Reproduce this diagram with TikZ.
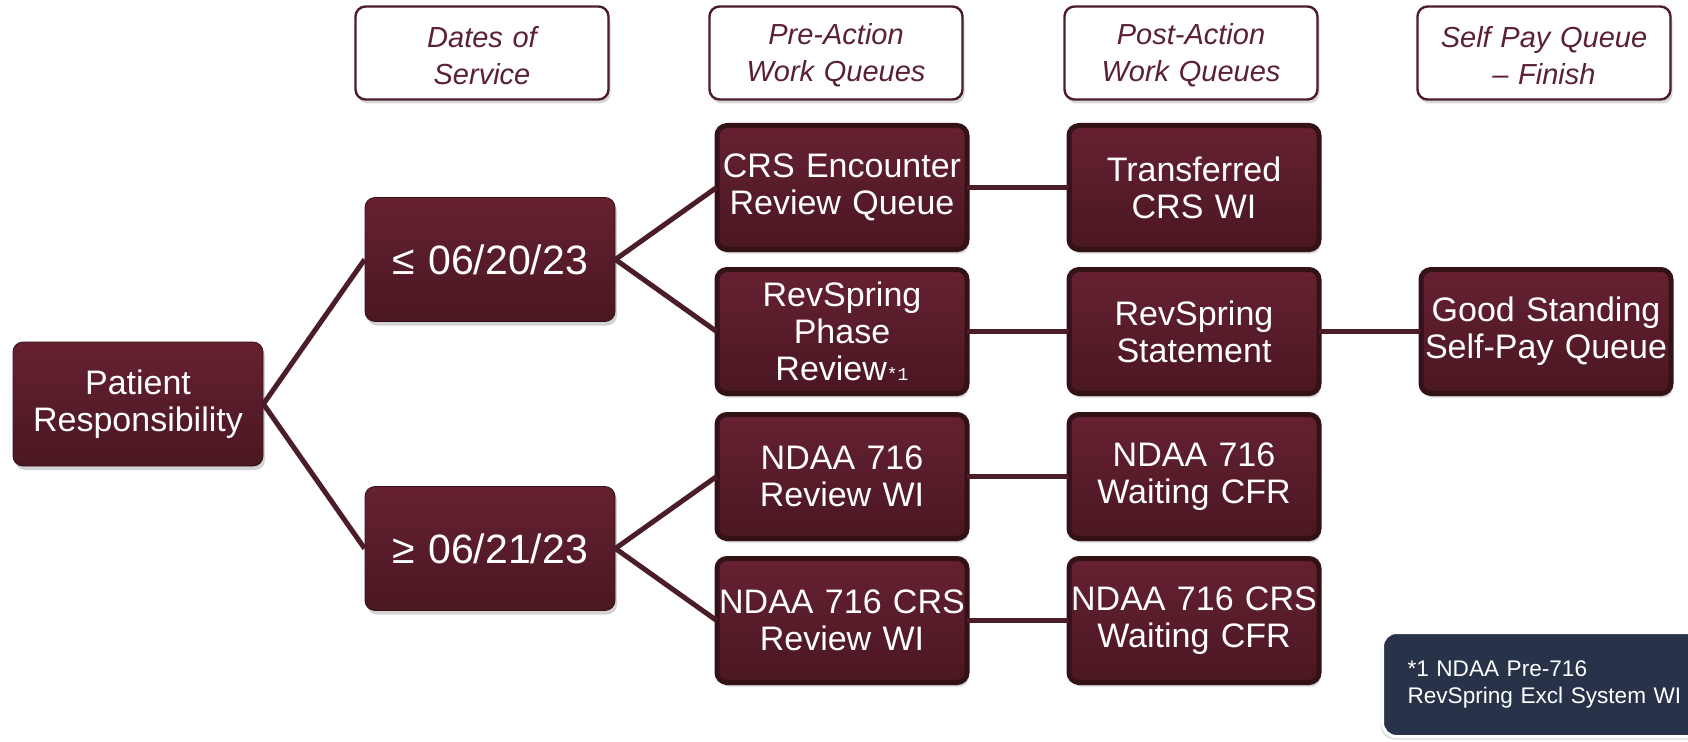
\documentclass[tikz,border=0pt]{standalone}
\usepackage{fontspec}
\setmainfont{Liberation Sans}
\setmonofont{Liberation Mono}
\usetikzlibrary{shadows}
\definecolor{maroontop}{HTML}{662131}
\definecolor{maroonbot}{HTML}{4A1721}
\definecolor{maroonline}{HTML}{4B1D27}
\definecolor{headtext}{HTML}{5A2130}
\definecolor{notefill}{HTML}{283349}
\newcommand{\fnmark}{{\fontsize{9}{9}\selectfont\ttfamily *1}}

\begin{document}
\begin{tikzpicture}[x=0.5pt,y=0.5pt,
    edge from parent/.style={draw=maroonline,line width=2.5pt},
    parent anchor=east, child anchor=west,
    queue/.style = {rectangle, rounded corners=5pt, draw=maroonbot!70!black,
        top color=maroontop, bottom color=maroonbot, text=white,
        minimum width=125pt, minimum height=62pt, text width=124pt,
        inner sep=0pt, align=center, font=\fontsize{17}{18.5}\selectfont,
        drop shadow={opacity=0.35,shadow xshift=1pt,shadow yshift=-2pt}},
    datebox/.style = {font=\fontsize{20.5}{22}\selectfont},
    heading/.style = {rectangle, rounded corners=5pt, draw=maroonline, line width=1.2pt,
        fill=white, minimum width=126.5pt, minimum height=46.5pt, text width=124pt,
        inner sep=0pt, align=center, text=headtext,
        font=\fontsize{14.5}{18.5}\selectfont\itshape,
        drop shadow={opacity=0.3,shadow xshift=1pt,shadow yshift=-2pt}},
    notebox/.style = {rectangle, rounded corners=7pt, fill=notefill, draw=white,
        line width=1.5pt, text=white, text width=150pt, inner xsep=12.5pt,
        minimum height=52pt, align=left, font=\fontsize{11.3}{13.5}\selectfont,
        drop shadow={opacity=0.25,shadow xshift=-1pt,shadow yshift=-1.5pt}},
    grow'=right, level distance=176pt,
    level 1/.style={sibling distance=144.5pt},
    level 2/.style={sibling distance=72pt}]
    \useasboundingbox (0,0) rectangle (1688,741);

    \node [heading] (hdates) at (482,688) {\strut Dates of\\Service};
    \node [heading] (hpre) at (836,688) {\strut Pre-Action\\Work Queues};
    \node [heading] (hpost) at (1191,688) {\strut Post-Action\\Work Queues};
    \node [heading] (hself) at (1544,688) {\strut Self Pay Queue\\– Finish};

    \node [queue] (patient) at (138,337) {Patient\\Responsibility}
    child {node [queue,datebox] (early) {≤ 06/20/23}
        child {node [queue] (crsenc) {CRS Encounter\\Review Queue}
            child {node [queue] (crsxfer) {Transferred\\CRS WI}}
        }
        child {node [queue] (revphase) {RevSpring\\Phase\\Review\fnmark}
            child {node [queue] (revstmt) {RevSpring\\Statement}
                child {node [queue] (goodstanding) {Good Standing\\Self-Pay Queue}}
            }
        }
    }
    child {node [queue,datebox] (late) {≥ 06/21/23}
        child {node [queue] (ndaarev) {NDAA 716\\Review WI}
            child {node [queue] (ndaawait) {NDAA 716\\Waiting CFR}}
        }
        child {node [queue] (ndaacrsrev) {NDAA 716 CRS\\Review WI}
            child {node [queue] (ndaacrswait) {NDAA 716 CRS\\Waiting CFR}}
        }
    };

    \node [notebox,anchor=north west] (note) at (1381,110) {*1 NDAA Pre-716\\RevSpring Excl System WI};
\end{tikzpicture}
\end{document}
